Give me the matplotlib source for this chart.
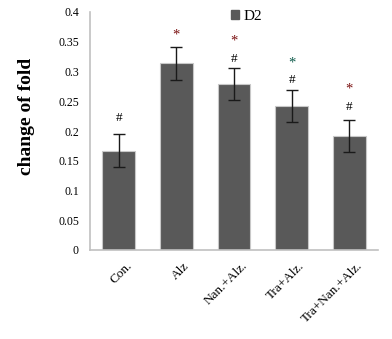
import matplotlib
matplotlib.use("Agg")
import matplotlib.pyplot as plt
from matplotlib.patches import Patch
import matplotlib.transforms as mtransforms

categories = ["Con.", "Alz", "Nan.+Alz.", "Tra+Alz.", "Tra+Nan.+Alz."]
values = [0.167, 0.314, 0.279, 0.242, 0.192]
errors = [0.028, 0.028, 0.027, 0.027, 0.027]
hash_marks = [True, False, True, True, True]
star_marks = [False, True, True, True, True]
hash_y = [0.222, None, 0.321, 0.286, 0.240]
star_y = [None, 0.362, 0.351, 0.315, 0.270]
star_colors = [None, "#7a1010", "#7a1010", "#0d5a4a", "#7a1010"]
yticks = [0, 0.05, 0.1, 0.15, 0.2, 0.25, 0.3, 0.35, 0.4]
ytick_labels = ["0", "0.05", "0.1", "0.15", "0.2", "0.25", "0.3", "0.35", "0.4"]

plt.rcParams['font.family'] = ['Liberation Serif', 'DejaVu Serif']

fig = plt.figure(figsize=(3.92, 3.39), dpi=100)
ax = fig.add_axes([90/392, (339-250)/339, (378-90)/392, (250-12)/339])

x = list(range(len(categories)))
ax.bar(x, values, width=0.57, color="#595959", edgecolor="#c8c8c8", linewidth=0.8, zorder=2)
ax.errorbar(x, values, yerr=errors, fmt="none", ecolor="#1a1a1a", elinewidth=1.0,
            capsize=4.6, capthick=1.0, zorder=3)

for i in x:
    if hash_marks[i]:
        ax.text(i, hash_y[i], "#", ha="center", va="center", fontsize=9.5, color="black")
    if star_marks[i]:
        ax.text(i, star_y[i], "*", ha="center", va="center", fontsize=10.5, color=star_colors[i])

ax.set_xlim(-0.5, len(categories) - 0.5)
ax.set_ylim(0, 0.4)
ax.set_yticks(yticks)
ax.set_yticklabels(ytick_labels, fontsize=8.5)
ax.set_xticks(x)
ax.set_xticklabels(categories, rotation=45, ha="right", rotation_mode="anchor", fontsize=9.5)
ax.tick_params(axis="both", length=0, pad=8)
ax.tick_params(axis="x", pad=7)
offset = mtransforms.ScaledTranslation(7/100, 0, fig.dpi_scale_trans)
for lbl in ax.get_xticklabels():
    lbl.set_transform(lbl.get_transform() + offset)

for s in ["top", "right"]:
    ax.spines[s].set_visible(False)
for s in ["left", "bottom"]:
    ax.spines[s].set_color("#c0c0c0")
    ax.spines[s].set_linewidth(1.2)

ax.set_ylabel("change of fold", fontsize=14, fontweight="bold")
ax.yaxis.set_label_coords(-0.19, 0.56)

leg = ax.legend(handles=[Patch(facecolor="#595959", edgecolor="#595959", label="D2")],
                loc="upper left", bbox_to_anchor=(0.47, 1.035), frameon=False,
                fontsize=11, handlelength=0.5, handleheight=0.5, handletextpad=0.3,
                borderaxespad=0)

fig.savefig("out.png", dpi=100)
